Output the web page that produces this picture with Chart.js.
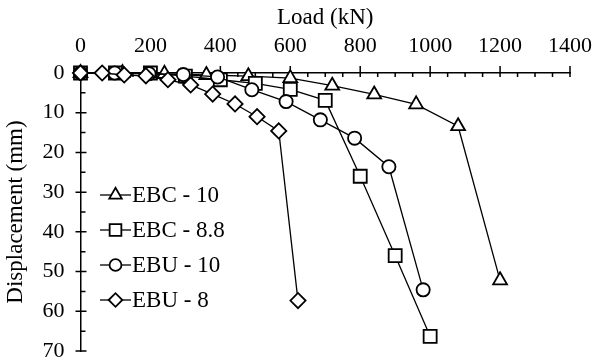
<!DOCTYPE html>
<html>
<head>
<meta charset="utf-8">
<script src="https://cdn.jsdelivr.net/npm/chart.js@4/dist/chart.umd.min.js"></script>
<style>
html,body{margin:0;padding:0;background:#fff;}
#wrap{position:relative;width:595px;height:362px;}
</style>
</head>
<body>
<div id="wrap"><canvas id="c" width="595" height="362"></canvas></div>
<script>
// ---- data (load in kN, displacement in mm) ----
const seriesNames = ['EBC - 10', 'EBC - 8.8', 'EBU - 10', 'EBU - 8'];
const ebc10Load = [0, 120, 240, 360, 480, 600, 720, 840, 960, 1080, 1200];
const ebc10Disp = [0, 0, 0.2, 0.5, 0.8, 1.3, 3.2, 5.4, 7.9, 13.4, 52.2];
const ebc88Load = [0, 100, 200, 300, 400, 500, 600, 700, 800, 900, 1000];
const ebc88Disp = [0, 0, 0, 0.8, 1.7, 2.6, 4.1, 6.9, 26, 46, 66.3];
const ebu10Load = [0, 98, 196, 294, 392, 490, 588, 686, 784, 882, 980];
const ebu10Disp = [0, 0, 0.2, 0.4, 1.0, 4.2, 7.2, 11.8, 16.4, 23.6, 54.6];
const ebu8Load = [0, 62, 125, 187, 250, 315, 378, 442, 505, 567, 622];
const ebu8Disp = [0, 0, 0.5, 0.7, 1.7, 3.0, 5.3, 7.8, 11.0, 14.6, 57.3];
const xTicks = [0, 200, 400, 600, 800, 1000, 1200, 1400];
const yTicks = [0, 10, 20, 30, 40, 50, 60, 70];

const FONT = "'Liberation Serif', 'Times New Roman', serif";
const toPts = (xs, ys) => xs.map((x, i) => ({x: x, y: ys[i]}));

const styles = [
  {pointStyle: 'triangle', radius: 8},
  {pointStyle: 'rect', radius: 9.2},
  {pointStyle: 'circle', radius: 6.6},
  {pointStyle: 'rectRot', radius: 7.6}
];
const allData = [
  toPts(ebc10Load, ebc10Disp),
  toPts(ebc88Load, ebc88Disp),
  toPts(ebu10Load, ebu10Disp),
  toPts(ebu8Load, ebu8Disp)
];

const datasets = allData.map((d, i) => ({
  label: seriesNames[i],
  data: d,
  showLine: true,
  borderColor: '#000',
  borderWidth: 1.3,
  pointStyle: styles[i].pointStyle,
  pointRadius: styles[i].radius,
  pointHoverRadius: styles[i].radius,
  pointBackgroundColor: '#fff',
  pointBorderColor: '#000',
  pointBorderWidth: 1.8,
  clip: false,
  order: 3 - i
}));

// Excel-like major (cross) and minor (inside) tick marks, placed through the scales
const tickMarks = {
  id: 'tickMarks',
  beforeDatasetsDraw(chart) {
    const ctx = chart.ctx;
    const xs = chart.scales.x, ys = chart.scales.y;
    const ax = xs.bottom, ay = ys.right;
    ctx.save();
    ctx.strokeStyle = '#000';
    ctx.lineWidth = 1.5;
    ctx.beginPath();
    for (let v = xs.min; v <= xs.max; v += 50) {
      const p = xs.getPixelForValue(v);
      if (v % 200 === 0) { ctx.moveTo(p, ax - 7); ctx.lineTo(p, ax + 4); }
      else { ctx.moveTo(p, ax); ctx.lineTo(p, ax + 4); }
    }
    for (let v = ys.min; v <= ys.max; v += 5) {
      const p = ys.getPixelForValue(v);
      if (v % 10 === 0) { ctx.moveTo(ay - 5, p); ctx.lineTo(ay + 6, p); }
      else { ctx.moveTo(ay, p); ctx.lineTo(ay + 5, p); }
    }
    ctx.stroke();
    ctx.restore();
  }
};

// legend inside the plot: line sample with marker, then label
const innerLegend = {
  id: 'innerLegend',
  afterDatasetsDraw(chart) {
    const ctx = chart.ctx;
    const x0 = 100, lineLen = 31, y0 = 195, dy = 35;
    ctx.save();
    chart.data.datasets.forEach((ds, i) => {
      const y = y0 + i * dy;
      ctx.strokeStyle = '#000';
      ctx.lineWidth = 1.3;
      ctx.beginPath();
      ctx.moveTo(x0, y); ctx.lineTo(x0 + lineLen, y);
      ctx.stroke();
      ctx.fillStyle = '#fff';
      ctx.lineWidth = 1.8;
      Chart.helpers.drawPoint(ctx, {pointStyle: ds.pointStyle, radius: ds.pointRadius * 0.9, rotation: 0, borderWidth: 1.8}, x0 + lineLen / 2, y);
      ctx.fillStyle = '#000';
      ctx.font = '23px ' + FONT;
      ctx.textAlign = 'left';
      ctx.textBaseline = 'middle';
      ctx.fillText(ds.label, x0 + lineLen + 1, y + 1);
    });
    ctx.restore();
  }
};

new Chart(document.getElementById('c'), {
  type: 'scatter',
  data: {datasets: datasets},
  options: {
    responsive: false,
    animation: false,
    devicePixelRatio: 1,
    layout: {padding: {left: 0, right: 25, top: 0, bottom: 7}},
    plugins: {legend: {display: false}, tooltip: {enabled: false}},
    scales: {
      x: {
        type: 'linear', position: 'top',
        min: 0, max: 1400,
        afterBuildTicks: (s) => { s.ticks = xTicks.map(v => ({value: v})); },
        grid: {display: false, drawTicks: false},
        border: {display: true, color: '#000', width: 1.5},
        ticks: {color: '#000', font: {family: FONT, size: 22}, padding: 14, maxRotation: 0, callback: (v) => String(v)},
        title: {display: true, text: 'Load (kN)', color: '#000', font: {family: FONT, size: 23}, padding: {top: 4, bottom: 0}},
        afterFit: (s) => { s.height = 73; s.paddingLeft = 0; s.paddingRight = 0; }
      },
      y: {
        type: 'linear', reverse: true,
        min: 0, max: 70,
        afterBuildTicks: (s) => { s.ticks = yTicks.map(v => ({value: v})); },
        grid: {display: false, drawTicks: false},
        border: {display: true, color: '#000', width: 1.5},
        ticks: {color: '#000', font: {family: FONT, size: 22}, padding: 16, callback: (v) => String(v)},
        title: {display: true, text: 'Displacement (mm)', color: '#000', font: {family: FONT, size: 23}, padding: {top: 2, bottom: 0}},
        afterFit: (s) => { s.width = 80.5; s.paddingTop = 0; s.paddingBottom = 0; }
      }
    }
  },
  plugins: [tickMarks, innerLegend]
});
</script>
</body>
</html>
